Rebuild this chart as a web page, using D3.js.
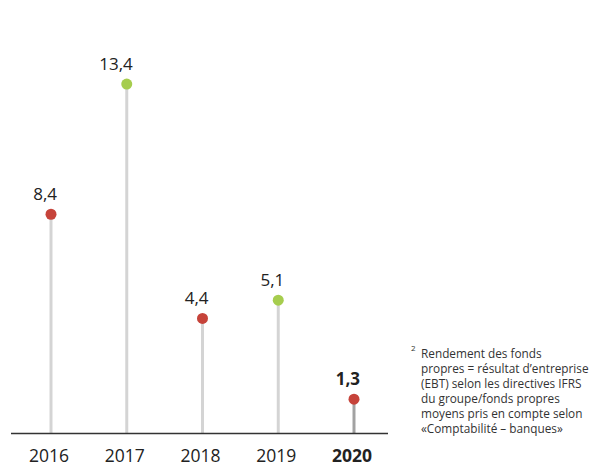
<!DOCTYPE html>
<html>
<head>
<meta charset="utf-8">
<script src="https://cdn.jsdelivr.net/npm/d3@7"></script>
<style>
    body { margin: 0; background: #fff; }
    svg { display: block; font-family: "Open Sans", "Noto Sans", sans-serif; }
    .stem { stroke: #d4d4d4; stroke-width: 3; }
    .stem.current { stroke: #a2a2a2; }
    .value { font-size: 17px; fill: #222; text-anchor: end; }
    .current-label { font-weight: bold; }
    .note { font-size: 11.8px; fill: #333; }
</style>
</head>
<body>
<div class="container"></div>
<script>
var years = ['2016', '2017', '2018', '2019', '2020'];
var returns = [8.4, 13.4, 4.4, 5.1, 1.3];
var trend = ['down', 'up', 'down', 'up', 'down'];
var currentYear = '2020';
var noteMark = '2';
var noteLines = [
    'Rendement des fonds',
    'propres = résultat d’entreprise',
    '(EBT) selon les directives IFRS',
    'du groupe/fonds propres',
    'moyens pris en compte selon',
    '«Comptabilité – banques»'
];

var WIDTH = 599;
var HEIGHT = 464;
var BASELINE = 433;

var colourOf = {down: '#c6433a', up: '#a6cd4e'};

var svg = d3.select('.container').append('svg')
    .attr('width', WIDTH)
    .attr('height', HEIGHT);

var x = d3.scalePoint().domain(years).range([51, 354]);
var y = d3.scaleLinear().domain([0, 14]).range([BASELINE, BASELINE - 14 * 26.04]);

var rows = years.map(function (yr, i) {
    return {year: yr, value: returns[i], trend: trend[i]};
});

// stems
svg.append('g').selectAll('line')
    .data(rows)
    .enter().append('line')
    .attr('class', function (d) { return d.year === currentYear ? 'stem current' : 'stem'; })
    .attr('x1', function (d) { return x(d.year); })
    .attr('x2', function (d) { return x(d.year); })
    .attr('y1', y(0))
    .attr('y2', function (d) { return y(d.value); });

// baseline
svg.append('line')
    .attr('x1', x(years[0]) - 40)
    .attr('x2', x(years[years.length - 1]) + 34)
    .attr('y1', BASELINE + 0.5)
    .attr('y2', BASELINE + 0.5)
    .attr('stroke', '#333')
    .attr('stroke-width', 1.3);

// dots
svg.append('g').selectAll('circle')
    .data(rows)
    .enter().append('circle')
    .attr('cx', function (d) { return x(d.year); })
    .attr('cy', function (d) { return y(d.value); })
    .attr('r', 5.5)
    .attr('fill', function (d) { return colourOf[d.trend]; });

// value labels (right edge sits a little past the dot)
svg.append('g').selectAll('text')
    .data(rows)
    .enter().append('text')
    .attr('class', function (d) { return d.year === currentYear ? 'value current-label' : 'value'; })
    .attr('x', function (d) { return x(d.year) + 6; })
    .attr('y', function (d) { return y(d.value) - 14; })
    .text(function (d) { return d3.format('.1f')(d.value).replace('.', ','); });

// year axis
var axis = svg.append('g')
    .attr('transform', 'translate(17.5,' + (BASELINE + 12) + ')')
    .call(d3.axisBottom(x).tickSize(0).tickPadding(0));
axis.select('.domain').remove();
axis.selectAll('text')
    .attr('font-family', '"Open Sans", "Noto Sans", sans-serif')
    .attr('font-size', 17.5)
    .attr('fill', '#222')
    .attr('text-anchor', 'end')
    .attr('dy', '0.98em')
    .attr('font-weight', function (d) { return d === currentYear ? 'bold' : 'normal'; });

// footnote
var note = svg.append('g').attr('transform', 'translate(421,358)');
note.append('text')
    .attr('class', 'note')
    .attr('x', -10)
    .attr('y', -7)
    .style('font-size', '8px')
    .text(noteMark);
note.selectAll('.line')
    .data(noteLines)
    .enter().append('text')
    .attr('class', 'note line')
    .attr('y', function (d, i) { return i * 15; })
    .text(function (d) { return d; });
</script>
</body>
</html>
